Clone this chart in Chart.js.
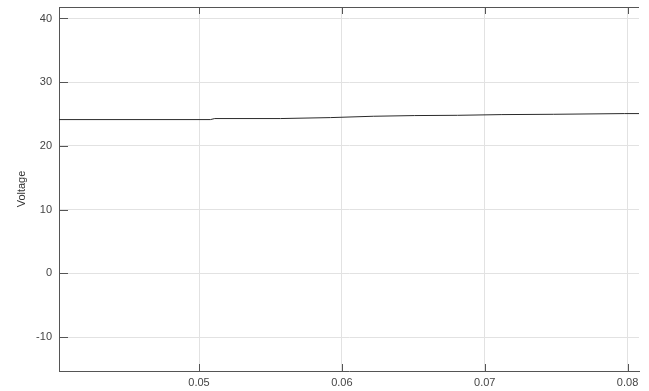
<!DOCTYPE html>
<html>
<head>
<meta charset="utf-8">
<script src="https://cdn.jsdelivr.net/npm/chart.js@4/dist/chart.umd.min.js"></script>
<style>
  html, body { margin: 0; padding: 0; background: #fff; }
  #wrap { width: 649px; height: 391px; }
</style>
</head>
<body>
<div id="wrap"><canvas id="c" width="649" height="391"></canvas></div>
<script>
// Time samples (s) and measured voltage
const timeValues = [0.0402, 0.0508, 0.0511, 0.0557, 0.0592, 0.0622, 0.0651, 0.0681, 0.0712, 0.0748, 0.0798, 0.0808];
const voltageValues = [24.14, 24.14, 24.30, 24.30, 24.45, 24.66, 24.77, 24.81, 24.92, 24.97, 25.08, 25.08];

// Axis ticks and ranges
const xTicks = [0.05, 0.06, 0.07, 0.08];
const yTicks = [-10, 0, 10, 20, 30, 40];
const xRange = [0.0402, 0.0808];
const yRange = [-15.3, 41.8];

const axisColor = '#555';
const tickFont = { family: 'Liberation Sans, Arial, sans-serif', size: 11 };

// Inward tick marks plus the top frame line
const frameTicks = {
  id: 'frameTicks',
  afterDatasetsDraw(chart) {
    const { ctx, chartArea: a, scales: { x, y } } = chart;
    ctx.save();
    ctx.strokeStyle = axisColor;
    ctx.lineWidth = 1;
    ctx.beginPath();
    ctx.moveTo(a.left, a.top + 0.5);
    ctx.lineTo(a.right, a.top + 0.5);
    xTicks.forEach(v => {
      const px = Math.round(x.getPixelForValue(v)) + 0.5;
      ctx.moveTo(px, a.bottom);
      ctx.lineTo(px, a.bottom - 7);
      ctx.moveTo(px, a.top);
      ctx.lineTo(px, a.top + 7);
    });
    yTicks.forEach(v => {
      const py = Math.round(y.getPixelForValue(v)) + 0.5;
      ctx.moveTo(a.left, py);
      ctx.lineTo(a.left + 9, py);
    });
    ctx.stroke();
    ctx.restore();
  }
};

new Chart(document.getElementById('c'), {
  type: 'line',
  data: {
    datasets: [{
      data: timeValues.map((t, i) => ({ x: t, y: voltageValues[i] })),
      borderColor: '#2a2a2a',
      borderWidth: 1,
      pointRadius: 0,
      tension: 0,
      fill: false
    }]
  },
  options: {
    responsive: false,
    animation: false,
    layout: { padding: { top: 7, right: 10, left: 0, bottom: 0 } },
    plugins: { legend: { display: false }, tooltip: { enabled: false } },
    scales: {
      x: {
        type: 'linear',
        min: xRange[0],
        max: xRange[1],
        afterBuildTicks: s => { s.ticks = xTicks.map(v => ({ value: v })); },
        afterFit: s => { s.height = 20; },
        grid: { color: '#e2e2e2', drawTicks: false },
        border: { display: true, color: axisColor, width: 1 },
        ticks: {
          color: '#444',
          font: tickFont,
          padding: 5,
          maxRotation: 0,
          callback: v => v.toFixed(2)
        }
      },
      y: {
        type: 'linear',
        min: yRange[0],
        max: yRange[1],
        afterBuildTicks: s => { s.ticks = yTicks.map(v => ({ value: v })); },
        afterFit: s => { s.width = 59; s.paddingTop = 0; s.paddingBottom = 0; },
        grid: { color: '#e2e2e2', drawTicks: false },
        border: { display: true, color: axisColor, width: 1 },
        ticks: {
          color: '#444',
          font: tickFont,
          padding: 7,
          callback: v => String(v)
        },
        title: {
          display: true,
          text: 'Voltage',
          color: '#333',
          font: { family: 'Liberation Sans, Arial, sans-serif', size: 11 },
          padding: { top: 15, bottom: 0 }
        }
      }
    }
  },
  plugins: [frameTicks]
});
</script>
</body>
</html>
